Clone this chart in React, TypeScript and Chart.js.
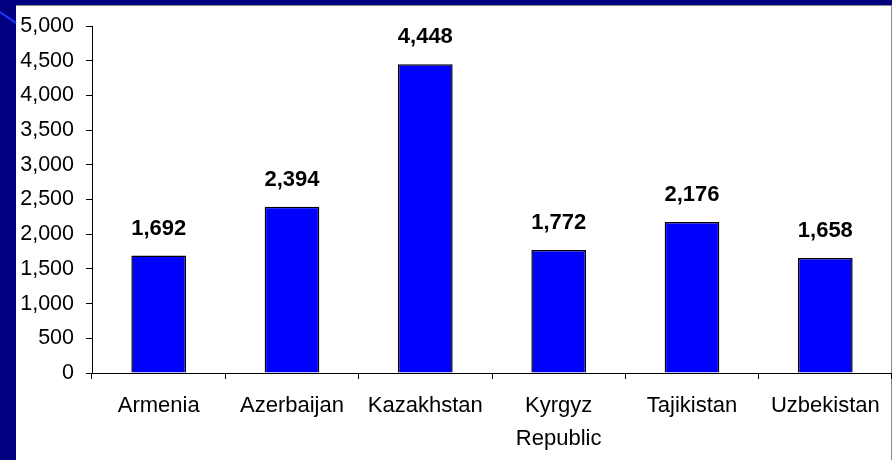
import React, { useEffect, useRef } from "react";
import { Chart, registerables } from "chart.js";

Chart.register(...registerables);

const categories: (string | string[])[] = [
  "Armenia",
  "Azerbaijan",
  "Kazakhstan",
  ["Kyrgyz", "Republic"],
  "Tajikistan",
  "Uzbekistan",
];
const values: number[] = [1692, 2394, 4448, 1772, 2176, 1658];
const yTickStep = 500;
const yMin = 0;
const yMax = 5000;

const FONT = "'Liberation Sans', Arial, sans-serif";

const bgPlugin = {
  id: "slideBg",
  beforeDraw(chart: any) {
    const { ctx, width, height } = chart;
    ctx.save();
    ctx.fillStyle = "#000080";
    ctx.fillRect(0, 0, width, height);
    ctx.fillStyle = "#ffffff";
    ctx.fillRect(16, 5, width - 16, height - 5);
    ctx.strokeStyle = "#8a8a8a";
    ctx.lineWidth = 1;
    ctx.beginPath();
    ctx.moveTo(16, 5.5);
    ctx.lineTo(width, 5.5);
    ctx.moveTo(width - 0.5, 5);
    ctx.lineTo(width - 0.5, height);
    ctx.stroke();
    ctx.strokeStyle = "#1f3cff";
    ctx.lineWidth = 2;
    ctx.beginPath();
    ctx.moveTo(0, 12);
    ctx.lineTo(16, 23);
    ctx.stroke();
    ctx.restore();
  },
};

const labelPlugin = {
  id: "valueLabels",
  afterDatasetsDraw(chart: any) {
    const { ctx } = chart;
    const meta = chart.getDatasetMeta(0);
    ctx.save();
    ctx.font = `bold 22px ${FONT}`;
    ctx.fillStyle = "#000000";
    ctx.textAlign = "center";
    ctx.textBaseline = "alphabetic";
    meta.data.forEach((bar: any, i: number) => {
      const v = chart.data.datasets[0].data[i] as number;
      ctx.fillText(v.toLocaleString("en-US"), bar.x, bar.y - 21);
    });
    ctx.restore();
  },
};

export default function App() {
  const ref = useRef<HTMLCanvasElement | null>(null);
  useEffect(() => {
    document.body.style.margin = "0";
    const canvas = ref.current!;
    const chart = new Chart(canvas, {
      type: "bar",
      data: {
        labels: categories,
        datasets: [
          {
            data: values,
            backgroundColor: "#0000ff",
            borderColor: "#000000",
            borderWidth: 1.5,
            categoryPercentage: 1,
            barPercentage: 0.41,
          },
        ],
      },
      options: {
        responsive: false,
        animation: false,
        devicePixelRatio: 1,
        layout: { padding: { top: 26, left: 0, right: 0, bottom: 0 } },
        plugins: {
          legend: { display: false },
          tooltip: { enabled: false },
        },
        scales: {
          x: {
            offset: true,
            grid: {
              offset: true,
              drawOnChartArea: false,
              drawTicks: true,
              tickLength: 6,
              color: "#000000",
            },
            border: { display: true, color: "#000000", width: 1 },
            ticks: {
              color: "#000000",
              font: { family: FONT, size: 22, lineHeight: 1.5 },
              padding: 10,
              maxRotation: 0,
              autoSkip: false,
            },
            afterFit(scale: any) {
              scale.height = 87;
            },
          },
          y: {
            min: yMin,
            max: yMax,
            grid: {
              drawOnChartArea: false,
              drawTicks: true,
              tickLength: 6,
              color: "#000000",
            },
            border: { display: true, color: "#000000", width: 1 },
            ticks: {
              stepSize: yTickStep,
              color: "#000000",
              font: { family: FONT, size: 21.5 },
              padding: 12,
              callback: (v: any) => Number(v).toLocaleString("en-US"),
            },
            afterFit(scale: any) {
              scale.width = 92;
            },
          },
        },
      },
      plugins: [bgPlugin, labelPlugin],
    });
    return () => chart.destroy();
  }, []);
  return (
    <div style={{ position: "fixed", left: 0, top: 0, width: 892, height: 460 }}>
      <canvas ref={ref} width={892} height={460} style={{ width: 892, height: 460, display: "block" }} />
    </div>
  );
}
